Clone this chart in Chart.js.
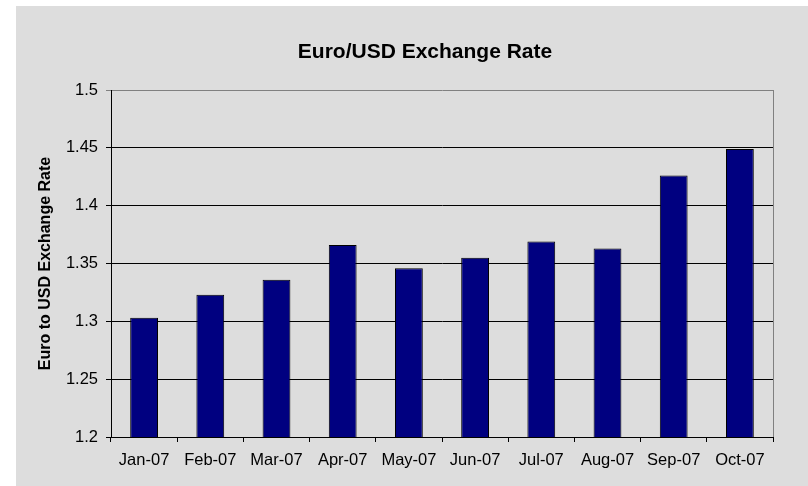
<!DOCTYPE html>
<html>
<head>
<meta charset="utf-8">
<script src="https://cdn.jsdelivr.net/npm/chart.js@4"></script>
<style>
  html, body { margin: 0; padding: 0; background: #ffffff; }
  #frame { position: absolute; left: 16px; top: 6px; width: 792px; height: 480px; background: #dddddd; }
</style>
</head>
<body>
<div id="frame"><canvas id="rateChart" width="792" height="480"></canvas></div>
<script>
// Chart data
const months = ['Jan-07', 'Feb-07', 'Mar-07', 'Apr-07', 'May-07', 'Jun-07', 'Jul-07', 'Aug-07', 'Sep-07', 'Oct-07'];
const rates = [1.303, 1.323, 1.336, 1.366, 1.346, 1.355, 1.369, 1.363, 1.426, 1.449];
const yTicks = [1.2, 1.25, 1.3, 1.35, 1.4, 1.45, 1.5];

// right edge of the plot area is a grey line in the original
const plotBorder = {
    id: 'plotBorder',
    afterDraw(chart) {
        const a = chart.chartArea;
        const c = chart.ctx;
        c.save();
        c.strokeStyle = '#808080';
        c.lineWidth = 1;
        c.beginPath();
        c.moveTo(Math.round(a.right) + 0.5, a.top);
        c.lineTo(Math.round(a.right) + 0.5, a.bottom);
        c.stroke();
        c.restore();
    }
};

document.addEventListener('DOMContentLoaded', function() {
    const ctx = document.getElementById('rateChart').getContext('2d');
    new Chart(ctx, {
        type: 'bar',
        data: {
            labels: months,
            datasets: [{
                label: 'Euro to USD',
                data: rates,
                backgroundColor: '#000080',
                borderColor: '#000000',
                borderWidth: 1,
                barPercentage: 0.42,
                categoryPercentage: 1.0
            }]
        },
        options: {
            responsive: false,
            devicePixelRatio: 1,
            animation: false,
            // negative right padding moves the title centre right; the empty right axis gives the space back
            layout: { padding: { left: 0, top: 0, right: -26, bottom: 0 } },
            plugins: {
                legend: { display: false },
                tooltip: { enabled: false },
                title: {
                    display: true,
                    text: 'Euro/USD Exchange Rate',
                    color: '#000000',
                    font: { family: '"Liberation Sans", Arial, sans-serif', size: 21, weight: 'bold' },
                    padding: { top: 33.4, bottom: 25.4 }
                }
            },
            scales: {
                x: {
                    offset: true,
                    afterFit: s => { s.height = 49; },
                    grid: {
                        offset: true,
                        drawOnChartArea: false,
                        drawTicks: true,
                        tickLength: 5,
                        color: '#000000'
                    },
                    border: { color: '#000000', width: 1 },
                    ticks: {
                        color: '#000000',
                        padding: 9,
                        maxRotation: 0,
                        autoSkip: false,
                        font: { family: '"Liberation Sans", Arial, sans-serif', size: 16.5 }
                    }
                },
                y: {
                    min: 1.2,
                    max: 1.5,
                    afterFit: s => { s.width = 95; },
                    afterBuildTicks: s => { s.ticks = yTicks.map(v => ({ value: v })); },
                    grid: {
                        tickLength: 5,
                        color: c => (c.tick && c.tick.value === 1.5) ? '#808080' : '#000000'
                    },
                    border: { color: '#000000', width: 1 },
                    ticks: {
                        color: '#000000',
                        padding: 8,
                        callback: v => String(+Number(v).toFixed(2)),
                        font: { family: '"Liberation Sans", Arial, sans-serif', size: 16.5 }
                    },
                    title: {
                        display: true,
                        text: 'Euro to USD Exchange Rate',
                        color: '#000000',
                        padding: { top: 20.4, bottom: 0 },
                        font: { family: '"Liberation Sans", Arial, sans-serif', size: 16, weight: 'bold' }
                    }
                },
                spacer: {
                    type: 'linear',
                    position: 'right',
                    afterFit: s => { s.width = 61; },
                    grid: { display: false },
                    border: { display: false },
                    ticks: { display: false }
                }
            }
        },
        plugins: [plotBorder]
    });
});
</script>
</body>
</html>
